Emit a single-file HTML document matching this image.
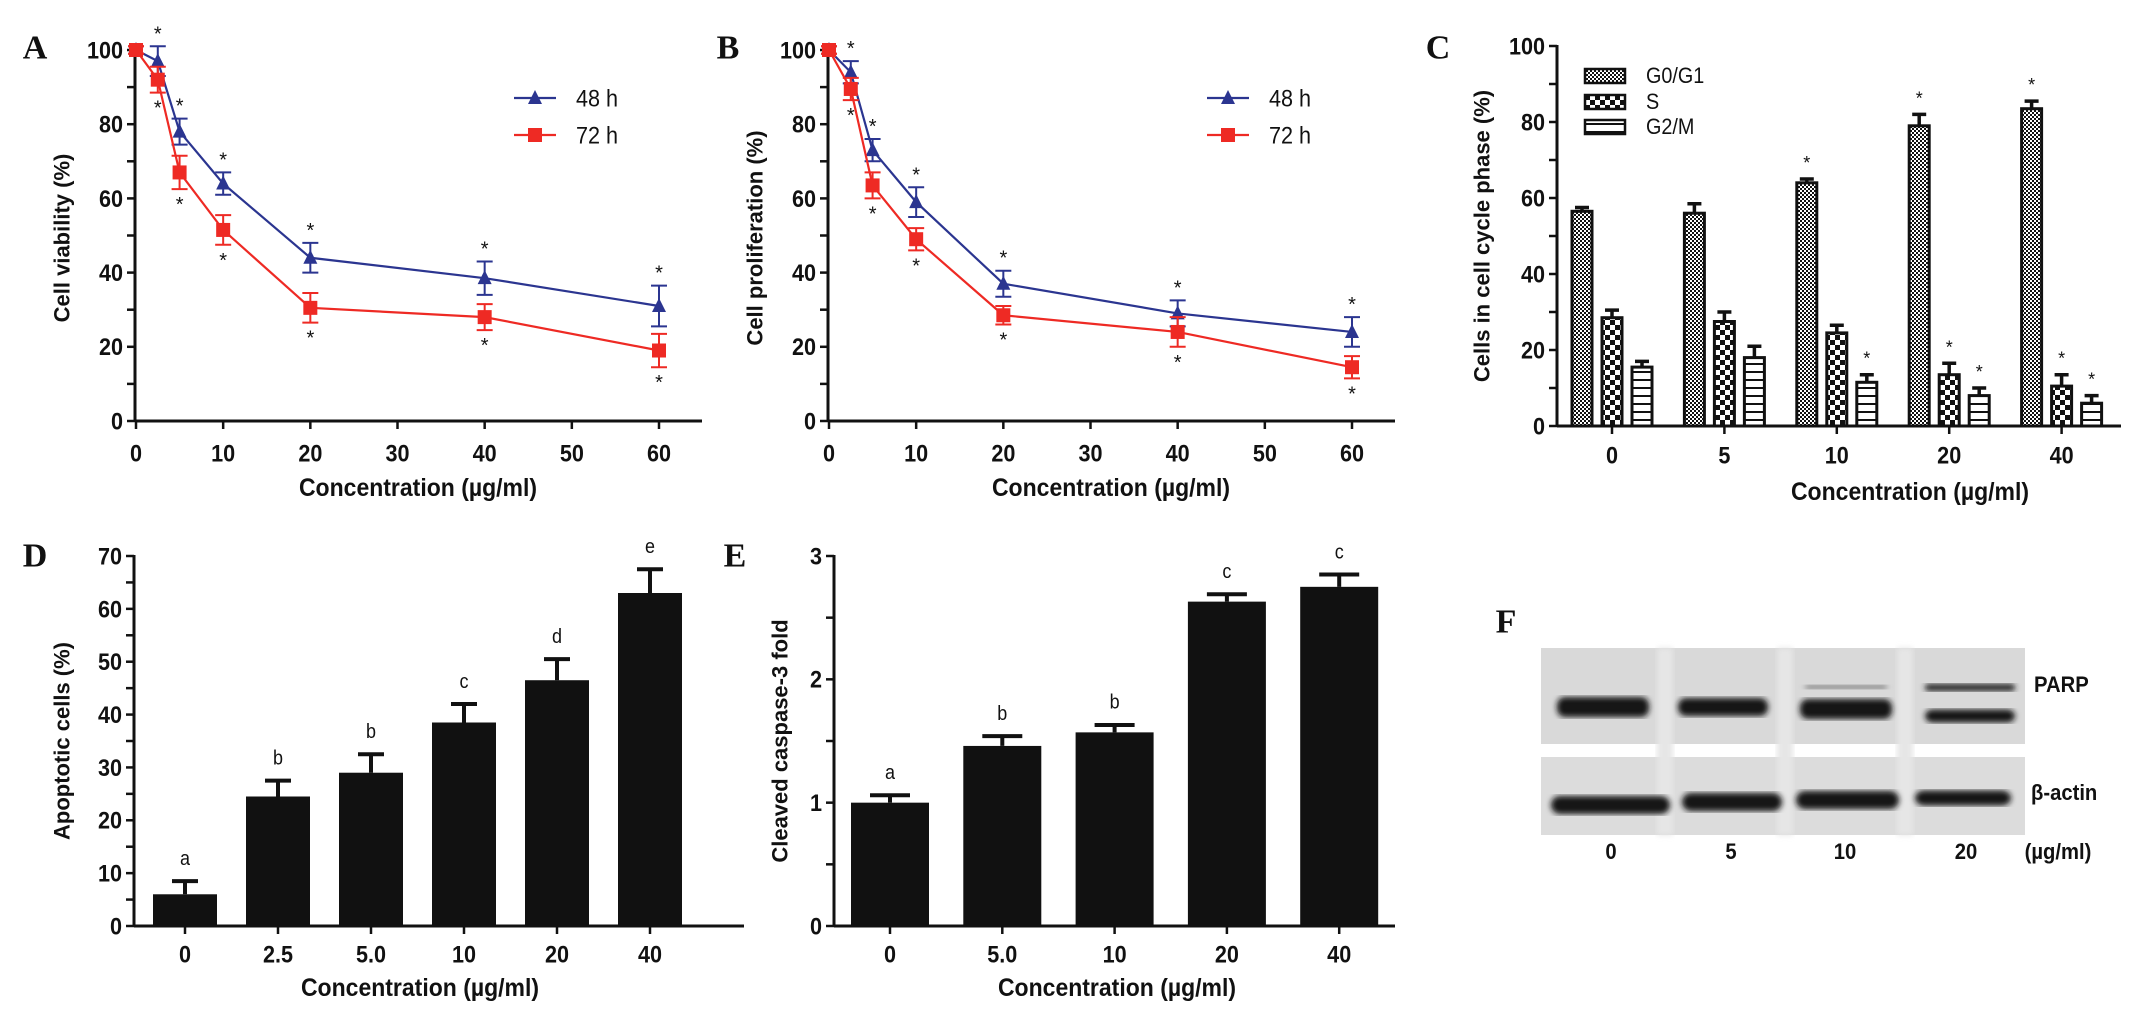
<!DOCTYPE html>
<html><head><meta charset="utf-8"><style>
html,body{margin:0;padding:0;background:#fff;width:2141px;height:1013px;overflow:hidden}
svg{display:block}
</style></head><body>
<svg id="fig" width="2141" height="1013" viewBox="0 0 2141 1013" xmlns="http://www.w3.org/2000/svg">
<defs>
<pattern id="pG0" width="4" height="4" patternUnits="userSpaceOnUse"><rect width="4" height="4" fill="#fff"/><rect width="2" height="2" fill="#111"/><rect x="2" y="2" width="2" height="2" fill="#111"/></pattern>
<pattern id="pS" width="10" height="10" patternUnits="userSpaceOnUse"><rect width="10" height="10" fill="#fff"/><rect width="5" height="5" fill="#111"/><rect x="5" y="5" width="5" height="5" fill="#111"/></pattern>
<pattern id="pG2" width="8" height="8" patternUnits="userSpaceOnUse"><rect width="8" height="8" fill="#fff"/><rect y="3" width="8" height="2" fill="#111"/></pattern>
<filter id="blur3"><feGaussianBlur stdDeviation="3"/></filter>
<filter id="blur6"><feGaussianBlur stdDeviation="6"/></filter>
</defs>
</svg>
<script>
// ---------- data ----------
const lineConc = [0, 2.5, 5, 10, 20, 40, 60];
const aViab48 = [100, 97, 78, 64, 44, 38.5, 31];
const aViab48Err = [1, 4, 3.5, 3, 4, 4.5, 5.5];
const aViab72 = [100, 92, 67, 51.5, 30.5, 28, 19];
const aViab72Err = [1, 3.5, 4.5, 4, 4, 3.5, 4.5];
const bProl48 = [100, 94, 73, 59, 37, 29, 24];
const bProl48Err = [1, 3, 3, 4, 3.5, 3.5, 4];
const bProl72 = [100, 89.5, 63.5, 49, 28.5, 24, 14.5];
const bProl72Err = [1, 3, 3.5, 3, 2.5, 4, 3];
const lineXTicks = [0, 10, 20, 30, 40, 50, 60];
const lineYTicks = [0, 20, 40, 60, 80, 100];

const cCats = ['0', '5', '10', '20', '40'];
const cG0 = [56.5, 56, 64, 79, 83.5];
const cG0Err = [1, 2.5, 1, 3, 2];
const cS = [28.5, 27.5, 24.5, 13.5, 10.5];
const cSErr = [2, 2.5, 2, 3, 3];
const cG2 = [15.5, 18, 11.5, 8, 6];
const cG2Err = [1.5, 3, 2, 2, 2];
const cG0Star = [false, false, true, true, true];
const cSStar = [false, false, false, true, true];
const cG2Star = [false, false, true, true, true];
const cYTicks = [0, 20, 40, 60, 80, 100];

const dCats = ['0', '2.5', '5.0', '10', '20', '40'];
const dVals = [6, 24.5, 29, 38.5, 46.5, 63];
const dErr = [2.5, 3, 3.5, 3.5, 4, 4.5];
const dLetters = ['a', 'b', 'b', 'c', 'd', 'e'];
const dYTicks = [0, 10, 20, 30, 40, 50, 60, 70];

const eCats = ['0', '5.0', '10', '20', '40'];
const eVals = [1.0, 1.46, 1.57, 2.63, 2.75];
const eErr = [0.06, 0.08, 0.06, 0.06, 0.1];
const eLetters = ['a', 'b', 'b', 'c', 'c'];
const eYTicks = [0, 1, 2, 3];

const fLanes = ['0', '5', '10', '20'];

// ---------- helpers ----------
const NS = 'http://www.w3.org/2000/svg';
const svg = document.getElementById('fig');
const FONT = '"Liberation Sans", Arial, sans-serif';
function mk(tag, a, p) { const e = document.createElementNS(NS, tag); for (const k in a) e.setAttribute(k, a[k]); (p || svg).appendChild(e); return e; }
function lin(d0, d1, r0, r1) { return v => r0 + (v - d0) * (r1 - r0) / (d1 - d0); }
function txt(p, x, y, s, size, o) {
  o = o || {};
  const tr = `translate(${x},${y})` + (o.rot ? ' rotate(-90)' : '') + ` scale(${o.sx || 1},1)`;
  const t = mk('text', { transform: tr, 'font-size': size, 'font-weight': o.w || 'bold', 'text-anchor': o.anchor || 'middle', 'dominant-baseline': 'central', 'font-family': o.f || FONT, fill: o.fill || '#111' }, p);
  t.textContent = s; return t;
}
function group(name) { const g = mk('g', {});   return g; }

function yAxis(g, x, yScale, ticks, minorStep, y0, y1) {
  const ax = mk('line', { x1: x, x2: x, y1: yScale(y0), y2: yScale(y1) - 1, stroke: '#111', 'stroke-width': 3 }, g);
  
  
  for (let v = y0; v <= y1 + 1e-9; v += minorStep) {
    const tk = mk('line', { x1: x - 8, x2: x, y1: yScale(v), y2: yScale(v), stroke: '#111', 'stroke-width': 2.5 }, g);
    
    
  }
  ticks.forEach(v => {
    const t = txt(g, x - 12, yScale(v), String(v), 24, { anchor: 'end', sx: 0.9 });
    
    
  });
}

// ---------- line panels A & B ----------
function linePanel(name, ox, letter, ytitle, s48, e48, s72, e72) {
  const g = group(name);
  const xs = lin(0, 60, ox + 1, ox + 524);
  const ys = lin(0, 100, 421, 50);
  yAxis(g, ox, ys, lineYTicks, 10, 0, 100);
  const xa = mk('line', { x1: ox, x2: ox + 567, y1: 421, y2: 421, stroke: '#111', 'stroke-width': 3 }, g);
  
  
  lineXTicks.forEach(v => {
    const tk = mk('line', { x1: xs(v), x2: xs(v), y1: 421, y2: 429, stroke: '#111', 'stroke-width': 2.5 }, g);
    
    
    const t = txt(g, xs(v), 453, String(v), 24, { sx: 0.9 });
    
    
  });
  const xt = txt(g, ox + 283, 488, 'Concentration (µg/ml)', 25, { sx: 0.92 });
  
  
  const yt = txt(g, ox - 73, 238, ytitle, 22, { rot: true });
  
  
  const pl = txt(g, ox - 100, 48, letter, 34, { f: '"Liberation Serif", serif' });
  
  

  const series = [
    { v: s48, e: s48 === aViab48 || s48 === bProl48 ? e48 : e48, c: '#2b3590', m: 'tri', nm: '48h', up: true },
    { v: s72, e: e72, c: '#ee2a24', m: 'sq', nm: '72h', up: false }
  ];
  series.forEach(s => {
    const pts = lineConc.map((c, i) => `${xs(c)},${ys(s.v[i])}`).join(' ');
    const pl2 = mk('polyline', { points: pts, fill: 'none', stroke: s.c, 'stroke-width': 2.2 }, g);
    
    
    lineConc.forEach((c, i) => {
      const x = xs(c), yT = ys(s.v[i] + s.e[i]), yB = ys(s.v[i] - s.e[i]);
      const eb = mk('path', { d: `M${x},${yT}V${yB}M${x - 8},${yT}H${x + 8}M${x - 8},${yB}H${x + 8}`, stroke: s.c, 'stroke-width': 2, fill: 'none' }, g);
      
      
      const y = ys(s.v[i]);
      let mkr;
      if (s.m === 'tri') mkr = mk('polygon', { points: `${x},${y - 8} ${x - 7},${y + 6} ${x + 7},${y + 6}`, fill: s.c }, g);
      else mkr = mk('rect', { x: x - 7, y: y - 7, width: 14, height: 14, fill: s.c }, g);
      
      
      if (i > 0) {
        const st = txt(g, x, s.up ? yT - 12 : yB + 16, '*', 20, { w: 'normal' });
        
        
      }
    });
  });
  // legend
  [['48 h', '#2b3590', 'tri', 98], ['72 h', '#ee2a24', 'sq', 135]].forEach(L => {
    const lx = ox + 379;
    const ll = mk('line', { x1: lx, x2: lx + 42, y1: L[3], y2: L[3], stroke: L[1], 'stroke-width': 2.2 }, g);
    
    
    let m;
    if (L[2] === 'tri') m = mk('polygon', { points: `${lx + 21},${L[3] - 8} ${lx + 14},${L[3] + 6} ${lx + 28},${L[3] + 6}`, fill: L[1] }, g);
    else m = mk('rect', { x: lx + 14, y: L[3] - 7, width: 14, height: 14, fill: L[1] }, g);
    
    
    const lt = txt(g, lx + 62, L[3], L[0], 24, { anchor: 'start', w: 'normal', sx: 0.9 });
    
    
  });
}
linePanel('panel-a-cell-viability', 135, 'A', 'Cell viability (%)', aViab48, aViab48Err, aViab72, aViab72Err);
linePanel('panel-b-cell-proliferation', 828, 'B', 'Cell proliferation (%)', bProl48, bProl48Err, bProl72, bProl72Err);

// ---------- panel C ----------
(function () {
  const g = group('panel-c-cell-cycle');
  const ox = 1557;
  const ys = lin(0, 100, 426, 46);
  const xc = i => 1612 + i * 112.4;
  yAxis(g, ox, ys, cYTicks, 10, 0, 100);
  const xa = mk('line', { x1: ox, x2: 2121, y1: 426, y2: 426, stroke: '#111', 'stroke-width': 3 }, g);
  
  
  const sets = [[cG0, cG0Err, cG0Star, 'url(#pG0)', -30, 'g0g1'], [cS, cSErr, cSStar, 'url(#pS)', 0, 's'], [cG2, cG2Err, cG2Star, 'url(#pG2)', 30, 'g2m']];
  cCats.forEach((c, i) => {
    const tk = mk('line', { x1: xc(i), x2: xc(i), y1: 426, y2: 434, stroke: '#111', 'stroke-width': 2.5 }, g);
    
    
    const t = txt(g, xc(i), 455, c, 24, { sx: 0.9 });
    
    
    sets.forEach(s => {
      const x = xc(i) + s[4], y = ys(s[0][i]), yt = ys(s[0][i] + s[1][i]);
      const eb = mk('path', { d: `M${x},${y}V${yt}M${x - 7},${yt}H${x + 7}`, stroke: '#111', 'stroke-width': 3.5 }, g);
      
      
      const b = mk('rect', { x: x - 10, y: y, width: 20, height: 426 - y, fill: s[3], stroke: '#111', 'stroke-width': 3 }, g);
      
      
      if (s[2][i]) {
        const st = txt(g, x, yt - 16, '*', 18, { w: 'normal' });
        
        
      }
    });
  });
  const xt = txt(g, 1910, 492, 'Concentration (µg/ml)', 25, { sx: 0.92 });
  
  
  const yt = txt(g, 1482, 236, 'Cells in cell cycle phase (%)', 22, { rot: true });
  
  
  const pl = txt(g, 1438, 48, 'C', 34, { f: '"Liberation Serif", serif' });
  
  
  [['G0/G1', 'url(#pG0)', 76], ['S', 'url(#pS)', 102], ['G2/M', 'url(#pG2)', 127]].forEach(L => {
    const r = mk('rect', { x: 1585, y: L[2] - 7, width: 40, height: 14, fill: L[1], stroke: '#111', 'stroke-width': 2.5 }, g);
    
    
    const t = txt(g, 1646, L[2], L[0], 22, { anchor: 'start', w: 'normal', sx: 0.9 });
    
    
  });
})();

// ---------- bar panels D & E ----------
function barPanel(name, ox, axisEnd, letter, ytitle, cats, vals, errs, letters, yTicks, yMax, minor, x0, step, bw, capW, ytX, xtX) {
  const g = group(name);
  const ys = lin(0, yMax, 926, 556);
  yAxis(g, ox, ys, yTicks, minor, 0, yMax);
  const xa = mk('line', { x1: ox, x2: axisEnd, y1: 926, y2: 926, stroke: '#111', 'stroke-width': 3 }, g);
  
  
  cats.forEach((c, i) => {
    const x = x0 + i * step;
    const y = ys(vals[i]), yt = ys(vals[i] + errs[i]);
    const eb = mk('path', { d: `M${x},${y}V${yt}M${x - capW / 2},${yt}H${x + capW / 2}`, stroke: '#111', 'stroke-width': 4 }, g);
    
    
    const b = mk('rect', { x: x - bw / 2, y: y, width: bw, height: 926 - y, fill: '#111' }, g);
    
    
    const lt = txt(g, x, yt - 22, letters[i], 20, { w: 'normal', sx: 0.9 });
    
    
    const tk = mk('line', { x1: x, x2: x, y1: 926, y2: 934, stroke: '#111', 'stroke-width': 2.5 }, g);
    
    
    const t = txt(g, x, 954, c, 24, { sx: 0.9 });
    
    
  });
  const xt = txt(g, xtX, 988, 'Concentration (µg/ml)', 25, { sx: 0.92 });
  
  
  const yt = txt(g, ytX, 741, ytitle, 22, { rot: true });
  
  
  const pl = txt(g, ox - 99, 556, letter, 34, { f: '"Liberation Serif", serif' });
  
  
}
barPanel('panel-d-apoptosis', 134, 744, 'D', 'Apoptotic cells (%)', dCats, dVals, dErr, dLetters, dYTicks, 70, 5, 185, 93, 64, 26, 62, 420);
barPanel('panel-e-caspase3', 834, 1395, 'E', 'Cleaved caspase-3 fold', eCats, eVals, eErr, eLetters, eYTicks, 3, 0.5, 890, 112.3, 78, 40, 780, 1117);

// ---------- panel F (western blot) ----------
(function () {
  const g = group('panel-f-western-blot');
  const pl = txt(g, 1506, 622, 'F', 34, { f: '"Liberation Serif", serif' });
  
  
  const b1 = mk('rect', { x: 1541, y: 648, width: 484, height: 96, fill: '#d9d9d9' }, g);
  
  
  const b2 = mk('rect', { x: 1541, y: 757, width: 484, height: 78, fill: '#dcdcdc' }, g);
  
  
  [1665, 1785, 1905].forEach(x => {
    const s = mk('rect', { x: x - 8, y: 648, width: 16, height: 187, fill: '#e6e6e6', filter: 'url(#blur3)' }, g);
    
    
  });
  const parp = [[1557, 92, 707, 20], [1678, 90, 707, 18], [1800, 92, 709, 20], [1925, 90, 716, 13]];
  parp.forEach(p => {
    const r = mk('rect', { x: p[0], y: p[2] - p[3] / 2, width: p[1], height: p[3], rx: 8, fill: '#141414', filter: 'url(#blur3)' }, g);
    
    
  });
  const up1 = mk('rect', { x: 1925, y: 684, width: 90, height: 7, rx: 3, fill: '#222', filter: 'url(#blur3)' }, g);
  
  
  const up2 = mk('rect', { x: 1805, y: 685, width: 82, height: 4, rx: 2, fill: '#777', filter: 'url(#blur3)' }, g);
  
  
  const actin = [[1551, 119, 805, 18], [1682, 100, 802, 18], [1796, 103, 800, 18], [1915, 96, 798, 15]];
  actin.forEach(p => {
    const r = mk('rect', { x: p[0], y: p[2] - p[3] / 2, width: p[1], height: p[3], rx: 9, fill: '#121212', filter: 'url(#blur3)' }, g);
    
    
  });
  const t1 = txt(g, 2034, 685, 'PARP', 22, { anchor: 'start', sx: 0.92 });
  
  
  const t2 = txt(g, 2031, 793, 'β-actin', 22, { anchor: 'start', sx: 0.92 });
  
  
  const laneX = [1611, 1731, 1845, 1966];
  fLanes.forEach((c, i) => {
    const t = txt(g, laneX[i], 852, c, 22, { sx: 0.92 });
    
    
  });
  const u = txt(g, 2058, 852, '(µg/ml)', 22, { sx: 0.92 });
  
  
})();
</script>
</body></html>
